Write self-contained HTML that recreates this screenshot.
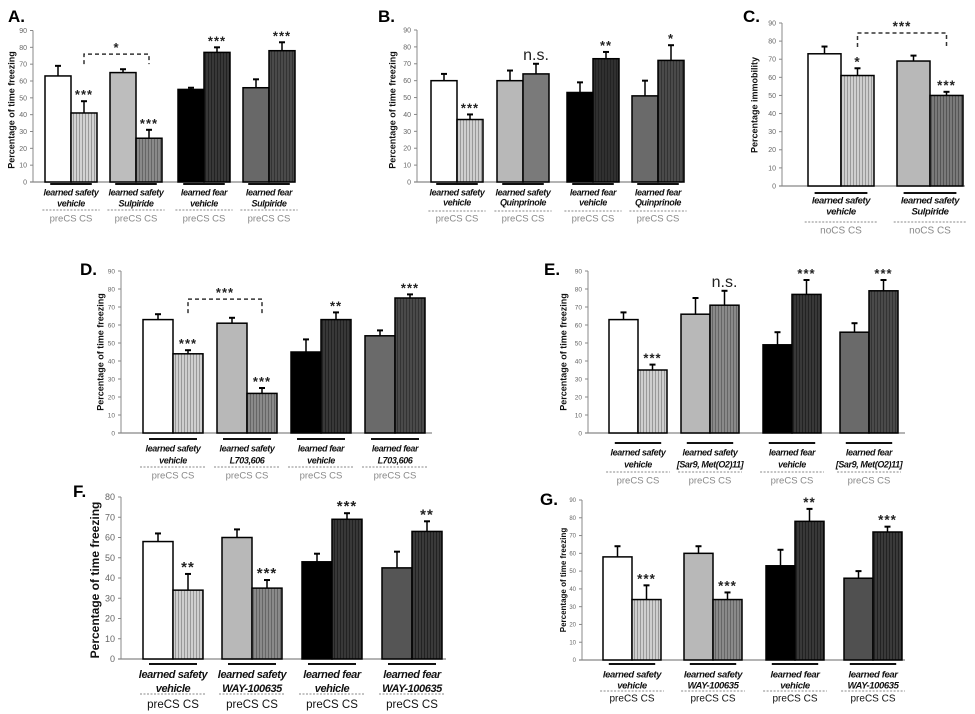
<!DOCTYPE html>
<html><head><meta charset="utf-8"><style>
html,body{margin:0;padding:0;background:#fff;}
svg{display:block;font-family:"Liberation Sans",sans-serif;}
</style></head><body>
<svg id="fig" width="975" height="714" viewBox="0 0 975 714" xmlns="http://www.w3.org/2000/svg">
<defs id="defs"></defs>
</svg>
<script>
// ----- data -----
const aLine1 = ["learned safety","learned safety","learned fear","learned fear"];
const aLine2 = ["vehicle","Sulpiride","vehicle","Sulpiride"];
const aPre = [63,65,55,56];
const aPreErr = [6,2,1,5];
const aCS = [41,26,77,78];
const aCSErr = [7,5,3,5];
const aStars = ["***","***","***","***"];

const bLine1 = ["learned safety","learned safety","learned fear","learned fear"];
const bLine2 = ["vehicle","Quinprinole","vehicle","Quinprinole"];
const bPre = [60,60,53,51];
const bPreErr = [4,6,6,9];
const bCS = [37,64,73,72];
const bCSErr = [3,6,4,9];
const bStars = ["***","n.s.","**","*"];

const cLine1 = ["learned safety","learned safety"];
const cLine2 = ["vehicle","Sulpiride"];
const cPre = [73,69];
const cPreErr = [4,3];
const cCS = [61,50];
const cCSErr = [4,2];
const cStars = ["*","***"];

const dLine1 = ["learned safety","learned safety","learned fear","learned fear"];
const dLine2 = ["vehicle","L703,606","vehicle","L703,606"];
const dPre = [63,61,45,54];
const dPreErr = [3,3,7,3];
const dCS = [44,22,63,75];
const dCSErr = [2,3,4,2];
const dStars = ["***","***","**","***"];

const eLine1 = ["learned safety","learned safety","learned fear","learned fear"];
const eLine2 = ["vehicle","[Sar9, Met(O2)11]","vehicle","[Sar9, Met(O2)11]"];
const ePre = [63,66,49,56];
const ePreErr = [4,9,7,5];
const eCS = [35,71,77,79];
const eCSErr = [3,8,8,6];
const eStars = ["***","n.s.","***","***"];

const fLine1 = ["learned safety","learned safety","learned fear","learned fear"];
const fLine2 = ["vehicle","WAY-100635","vehicle","WAY-100635"];
const fPre = [58,60,48,45];
const fPreErr = [4,4,4,8];
const fCS = [34,35,69,63];
const fCSErr = [8,4,3,5];
const fStars = ["**","***","***","**"];

const gLine1 = ["learned safety","learned safety","learned fear","learned fear"];
const gLine2 = ["vehicle","WAY-100635","vehicle","WAY-100635"];
const gPre = [58,60,53,46];
const gPreErr = [6,4,9,4];
const gCS = [34,34,78,72];
const gCSErr = [8,4,7,3];
const gStars = ["***","***","**","***"];

// ----- layout -----
const NS = "http://www.w3.org/2000/svg";
const svg = document.getElementById('fig');
const defs = document.getElementById('defs');
let patId = 0;
function mk(tag, attrs, parent){ const e=document.createElementNS(NS,tag); for(const k in attrs) e.setAttribute(k,attrs[k]); (parent||svg).appendChild(e); return e; }
function stripe(base, line){
  const id='p'+(patId++);
  const p=mk('pattern',{id:id,width:3,height:10,patternUnits:'userSpaceOnUse'},defs);
  mk('rect',{x:0,y:0,width:3,height:10,fill:base},p);
  mk('line',{x1:1.5,y1:0,x2:1.5,y2:10,stroke:line,'stroke-width':1},p);
  return 'url(#'+id+')';
}

const panels = [
 {key:'A',letter:[8,22],x0:33,zeroY:182,topY:30.5,max:90,xEnd:295,gx:[45,110,178,243],bw:26,ly:[184,193,204,210,219],fs:9,tfs:7,yl:[12,110],title:"Percentage of time freezing",ytfs:9,
  l1:aLine1,l2:aLine2,pre:aPre,preE:aPreErr,cs:aCS,csE:aCSErr,stars:aStars,
  preC:['#fff','#bdbdbd','#000','#686868'],csC:[['#d2d2d2','#999'],['#8a8a8a','#666'],['#383838','#222'],['#4a4a4a','#333']],
  bracket:{from:0,to:1,val:76,leg:10,label:"*"},pl:"preCS"},
 {key:'B',letter:[378,22],x0:417,zeroY:182,topY:30,max:90,xEnd:682,gx:[431,497,567,632],bw:26,ly:[184,193,203,211,219],fs:9,tfs:7,yl:[393,110],title:"Percentage of time freezing",ytfs:9,
  l1:bLine1,l2:bLine2,pre:bPre,preE:bPreErr,cs:bCS,csE:bCSErr,stars:bStars,
  preC:['#fff','#b8b8b8','#000','#6a6a6a'],csC:[['#cfcfcf','#999'],['#7a7a7a',null],['#303030','#222'],['#4a4a4a','#333']],pl:"preCS"},
 {key:'C',letter:[743,22],x0:782,zeroY:186,topY:23,max:90,xEnd:965,gx:[808,897],bw:33,ly:[193,201,212,222,231],fs:9.5,tfs:7,yl:[755,105],title:"Percentage immobility",ytfs:9,
  l1:cLine1,l2:cLine2,pre:cPre,preE:cPreErr,cs:cCS,csE:cCSErr,stars:cStars,
  preC:['#fff','#b8b8b8'],csC:[['#cfcfcf','#999'],['#7a7a7a','#555']],
  bracket:{from:0,to:1,val:84.5,leg:14,label:"***"},pl:"noCS"},
 {key:'D',letter:[80,275],x0:121,zeroY:433,topY:271,max:90,xEnd:432,gx:[143,217,291,365],bw:30,ly:[439,449,461,467,476],fs:9,tfs:6.5,yl:[101,352],title:"Percentage of time freezing",ytfs:9,
  l1:dLine1,l2:dLine2,pre:dPre,preE:dPreErr,cs:dCS,csE:dCSErr,stars:dStars,
  preC:['#fff','#b8b8b8','#000','#6a6a6a'],csC:[['#cfcfcf','#999'],['#8a8a8a','#666'],['#383838','#222'],['#4a4a4a','#333']],
  bracket:{from:0,to:1,val:74.4,leg:14,label:"***"},pl:"preCS"},
 {key:'E',letter:[544,275],x0:588,zeroY:433,topY:271,max:90,xEnd:905,gx:[609,681,763,840],bw:29,ly:[443,453,465,472,481],fs:9,tfs:6.5,yl:[564,352],title:"Percentage of time freezing",ytfs:9,
  l1:eLine1,l2:eLine2,pre:ePre,preE:ePreErr,cs:eCS,csE:eCSErr,stars:eStars,
  preC:['#fff','#b8b8b8','#000','#6a6a6a'],csC:[['#cfcfcf','#999'],['#8a8a8a','#666'],['#383838','#222'],['#4a4a4a','#333']],pl:"preCS"},
 {key:'F',letter:[73,497],x0:121,zeroY:659,topY:497,max:80,xEnd:446,gx:[143,222,302,382],bw:30,ly:[664,675,689,694,705],fs:11,tfs:9,yl:[96,580],title:"Percentage of time freezing",ytfs:12,
  l1:fLine1,l2:fLine2,pre:fPre,preE:fPreErr,cs:fCS,csE:fCSErr,stars:fStars,
  preC:['#fff','#b8b8b8','#000','#555'],csC:[['#cfcfcf','#999'],['#8a8a8a','#666'],['#383838','#222'],['#3a3a3a','#222']],pl:"preCS"},
 {key:'G',letter:[540,505],x0:582,zeroY:660,topY:500,max:90,xEnd:905,gx:[603,684,766,844],bw:29,ly:[664,675,686,691,699],fs:9.5,tfs:6,yl:[564,580],title:"Percentage of time freezing",ytfs:8,
  l1:gLine1,l2:gLine2,pre:gPre,preE:gPreErr,cs:gCS,csE:gCSErr,stars:gStars,
  preC:['#fff','#b8b8b8','#000','#505050'],csC:[['#cfcfcf','#999'],['#8a8a8a','#666'],['#383838','#222'],['#3a3a3a','#222']],pl:"preCS"}
];

panels.forEach(P=>{
  const g = mk('g',{});
  
  
  const y = v => P.zeroY - v*(P.zeroY-P.topY)/P.max;
  const L = mk('text',{x:P.letter[0],y:P.letter[1],'font-size':17,'font-weight':'bold',fill:'#000'},g);
  L.textContent = P.key+'.';
  
  
  const ax = mk('line',{x1:P.x0,y1:P.topY,x2:P.x0,y2:P.zeroY,stroke:'#888','stroke-width':1},g);
  
  
  const xa = mk('line',{x1:P.x0-3,y1:P.zeroY,x2:P.xEnd,y2:P.zeroY,stroke:'#888','stroke-width':1.2},g);
  
  
  for(let v=0; v<=P.max; v+=10){
    mk('line',{x1:P.x0-3,y1:y(v),x2:P.x0,y2:y(v),stroke:'#888'},g);
    const t = mk('text',{x:P.x0-6,y:y(v)+P.tfs*0.35,'font-size':P.tfs,fill:'#666','text-anchor':'end'},g);
    t.textContent = v;
    
    
  }
  const yt = mk('text',{x:P.yl[0],y:P.yl[1],'font-size':P.ytfs,'font-weight':'bold',fill:'#111','text-anchor':'middle',transform:`rotate(-90 ${P.yl[0]} ${P.yl[1]})`,'dominant-baseline':'middle'},g);
  yt.textContent = P.title;
  
  
  P.pre.forEach((pv,i)=>{
    const x = P.gx[i], bw=P.bw;
    const cx = x+bw;
    const b1 = mk('rect',{x:x,y:y(pv),width:bw,height:P.zeroY-y(pv),fill:P.preC[i],stroke:'#000','stroke-width':1.5},g);
    
    
    mk('line',{x1:x+bw/2,y1:y(pv),x2:x+bw/2,y2:y(pv+P.preE[i]),stroke:'#000','stroke-width':1.5},g);
    mk('line',{x1:x+bw/2-3,y1:y(pv+P.preE[i]),x2:x+bw/2+3,y2:y(pv+P.preE[i]),stroke:'#000','stroke-width':2},g);
    const cv = P.cs[i];
    const cc = P.csC[i];
    const fill = cc[1] ? stripe(cc[0],cc[1]) : cc[0];
    const b2 = mk('rect',{x:cx,y:y(cv),width:bw,height:P.zeroY-y(cv),fill:fill,stroke:'#000','stroke-width':1.5},g);
    
    
    const ey = y(cv+P.csE[i]);
    mk('line',{x1:cx+bw/2,y1:y(cv),x2:cx+bw/2,y2:ey,stroke:'#000','stroke-width':1.5},g);
    mk('line',{x1:cx+bw/2-3,y1:ey,x2:cx+bw/2+3,y2:ey,stroke:'#000','stroke-width':2},g);
    const st = P.stars[i];
    const s = mk('text',{x:cx+bw/2,y:ey-(st==='n.s.'?4:2),'font-size':st==='n.s.'?16:(P.fs+4),'font-weight':st==='n.s.'?'normal':'bold',fill:'#222','text-anchor':'middle','letter-spacing':st==='n.s.'?0:1},g);
    s.textContent = st;
    
    
    const gc = x+bw;
    const ly = P.ly;
    mk('line',{x1:gc-0.8*bw,y1:ly[0],x2:gc+0.8*bw,y2:ly[0],stroke:'#111','stroke-width':2},g);
    const t1 = mk('text',{x:gc,y:ly[1],'font-size':P.fs,'font-weight':'bold','font-style':'italic',fill:'#111','text-anchor':'middle','dominant-baseline':'middle','letter-spacing':-0.4},g);
    t1.textContent = P.l1[i];
    
    
    const t2 = mk('text',{x:gc,y:ly[2],'font-size':P.fs,'font-weight':'bold','font-style':'italic',fill:'#111','text-anchor':'middle','dominant-baseline':'middle','letter-spacing':-0.4},g);
    t2.textContent = P.l2[i];
    
    
    mk('line',{x1:gc-1.1*bw,y1:ly[3],x2:gc+1.1*bw,y2:ly[3],stroke:'#888','stroke-width':1,'stroke-dasharray':'2,1.5'},g);
    const t3 = mk('text',{x:gc,y:ly[4],'font-size':P.fs+0.5,fill:(P.key==='F'||P.key==='G')?'#111':'#888','text-anchor':'middle','dominant-baseline':'middle'},g);
    t3.textContent = P.pl+' CS';
    
    
  });
  if(P.bracket){
    const B=P.bracket;
    const x1=P.gx[B.from]+1.5*P.bw, x2=P.gx[B.to]+1.5*P.bw, by=y(B.val);
    const br = mk('path',{d:`M${x1},${by+B.leg} L${x1},${by} L${x2},${by} L${x2},${by+B.leg}`,fill:'none',stroke:'#333','stroke-width':1.5,'stroke-dasharray':'4,3'},g);
    
    
    const bt = mk('text',{x:(x1+x2)/2,y:by-2,'font-size':P.fs+4,'font-weight':'bold',fill:'#222','text-anchor':'middle','letter-spacing':1},g);
    bt.textContent = B.label;
    
    
  }
});
</script>
</body></html>
